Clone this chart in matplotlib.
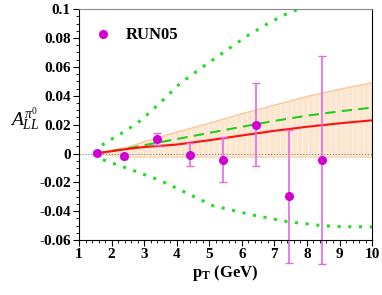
import numpy as np
import matplotlib
matplotlib.use('Agg')
import matplotlib.pyplot as plt
from matplotlib.ticker import AutoMinorLocator

plt.rcParams['font.family'] = 'Liberation Serif'
plt.rcParams['mathtext.fontset'] = 'custom'
plt.rcParams['mathtext.it'] = 'Liberation Serif:italic'
plt.rcParams['mathtext.rm'] = 'Liberation Serif'
plt.rcParams['mathtext.bf'] = 'Liberation Serif:bold'
plt.rcParams['hatch.linewidth'] = 0.6

# RUN05 data
pt = [1.55, 2.38, 3.4, 4.41, 5.42, 6.44, 7.45, 8.46]
all_ = [0.0005, -0.002, 0.010, -0.0007, -0.0044, 0.020, -0.0297, -0.0044]
err = [0.0015, 0.0015, 0.004, 0.0077, 0.0156, 0.0287, 0.046, 0.072]

# theory curves
x_curve = [1.5, 2.5, 3.0, 4.0, 5.0, 6.0, 7.0, 8.0, 9.0, 10.0]
red = [0.0, 0.0032, 0.0045, 0.0062, 0.0092, 0.0125, 0.0157, 0.0185, 0.0209, 0.023]
green_dash = [0.0, 0.0035, 0.0058, 0.0100, 0.0143, 0.0185, 0.0226, 0.0262, 0.0292, 0.0318]
band_hi = [0.0, 0.0044, 0.0082, 0.0148, 0.0210, 0.0275, 0.0335, 0.0395, 0.0445, 0.049]
band_lo = [0.0, -0.0026, -0.0026, -0.0026, -0.0026, -0.0026, -0.0026, -0.0026, -0.0026, -0.0026]

x_up = [1.5, 1.68, 2.33, 2.79, 3.15, 3.53, 4.1, 4.8, 5.54, 6.2, 6.8, 7.3, 7.8]
dot_up = [0.0, 0.0056, 0.0144, 0.021, 0.028, 0.036, 0.0485, 0.060, 0.0717, 0.082, 0.090, 0.096, 0.1005]
x_lo = [1.5, 1.56, 2.54, 3.23, 3.46, 4.15, 5.12, 6.35, 7.38, 8.5, 9.2, 10.0]
dot_lo = [0.0, -0.003, -0.0107, -0.0165, -0.0183, -0.0257, -0.0362, -0.0427, -0.0471, -0.0501, -0.0507, -0.0508]

fig = plt.figure(figsize=(3.82, 2.95), dpi=100)
ax = fig.add_axes([0.207, 0.186, 0.767, 0.783])

# band: pale fill with faint vertical lines, orange edges
ax.fill_between(x_curve, band_lo, band_hi, facecolor='#fde6d0', edgecolor='#fff4ea',
                hatch='|||', linewidth=0)
ax.plot(x_curve, band_hi, color='#fcc89a', lw=1.0)
ax.plot(x_curve, band_lo, color='#fcd6b4', lw=1.0)
ax.axhline(0, color='gray', ls=':', lw=0.8)
ax.plot(x_up, dot_up, color='#22dd22', ls=(0, (1, 2.5)), lw=2.2)
ax.plot(x_lo, dot_lo, color='#22dd22', ls=(0, (1, 2.5)), lw=2.2)
ax.plot(x_curve, green_dash, color='#22cc22', ls=(0, (5, 3)), lw=1.5)
ax.plot(x_curve, red, color='#ff1010', lw=1.5)

ax.errorbar(pt, all_, yerr=err, fmt='none', ecolor='#e668e6', elinewidth=1.2,
            capsize=3, capthick=1.0, clip_on=False)
ax.plot(pt, all_, 'o', color='#d000d0', ms=5.5, label='RUN05')

ax.set_xlim(1, 10)
ax.set_ylim(-0.06, 0.1)
ax.set_xticks(range(1, 11))
ax.set_yticks([-0.06, -0.04, -0.02, 0, 0.02, 0.04, 0.06, 0.08, 0.1])
ax.set_yticklabels(['-0.06', '-0.04', '-0.02', '0', '0.02', '0.04', '0.06', '0.08', '0.1'])
ax.xaxis.set_minor_locator(AutoMinorLocator(5))
ax.yaxis.set_minor_locator(AutoMinorLocator(4))
ax.tick_params(which='major', length=4, width=0.8, labelsize=11, pad=2)
ax.tick_params(which='minor', length=2, width=0.6)
for lab in ax.get_xticklabels() + ax.get_yticklabels():
    lab.set_fontweight('bold')
ax.spines['top'].set_color('#888888')

ax.set_xlabel(r'p$_\mathbf{T}$ (GeV)', fontsize=12, fontweight='bold', labelpad=1)
fig.text(0.025, 0.595, r'$A_{LL}^{\pi^0}$', fontsize=14, va='center', ha='left')

leg = ax.legend(loc='upper left', bbox_to_anchor=(0.03, 0.95), borderaxespad=0,
                frameon=False, handletextpad=0.9,
                prop={'weight': 'bold', 'size': 12}, handlelength=1.0)

fig.savefig('out.png', dpi=100)
